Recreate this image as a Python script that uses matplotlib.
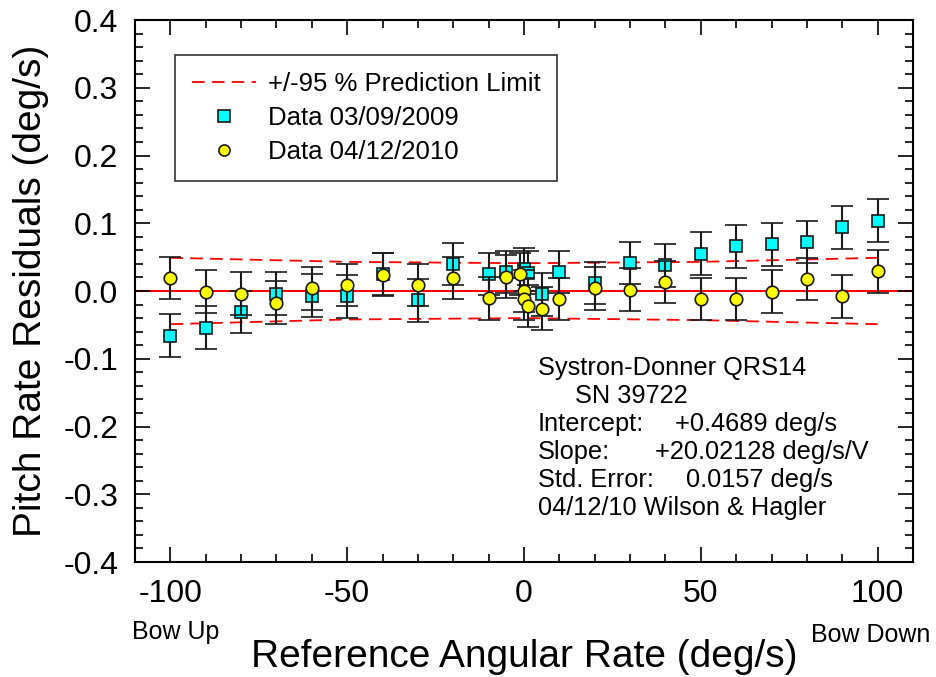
import matplotlib
matplotlib.use("Agg")
import matplotlib.pyplot as plt
from matplotlib.ticker import MultipleLocator
from matplotlib.lines import Line2D
import numpy as np

plt.rcParams['font.family'] = ['Liberation Sans', 'DejaVu Sans']

# data
x_2009 = [-100, -90, -80, -70, -60, -50, -40, -30, -20, -10, -5, 0, 1, 5, 10,
          20, 30, 40, 50, 60, 70, 80, 90, 100]
y_2009 = [-0.066, -0.054, -0.031, -0.004, -0.007, -0.008, 0.025, -0.014, 0.040,
          0.025, 0.028, 0.032, 0.027, -0.005, 0.028,
          0.012, 0.041, 0.038, 0.055, 0.066, 0.069, 0.072, 0.094, 0.104]

x_2010 = [-100, -90, -80, -70, -60, -50, -40, -30, -20, -10, -5, -1, 0, 0, 1, 5, 10,
          20, 30, 40, 50, 60, 70, 80, 90, 100]
y_2010 = [0.019, -0.001, -0.004, -0.017, 0.004, 0.009, 0.024, 0.009, 0.019,
          -0.011, 0.021, 0.025, 0.000, -0.012, -0.022, -0.026, -0.012,
          0.004, 0.002, 0.013, -0.012, -0.012, -0.001, 0.018, -0.008, 0.029]

err = 0.0314  # 2 x std. error

x_limit = [-100, -50, 0, 50, 100]
upper_limit = [0.049, 0.043, 0.041, 0.043, 0.049]
lower_limit = [-0.049, -0.042, -0.040, -0.043, -0.049]

info_labels = ['Systron-Donner QRS14', 'SN 39722', 'Intercept:', 'Slope:',
               'Std. Error:', '04/12/10 Wilson & Hagler']
info_values = ['', '', '+0.4689 deg/s', '+20.02128 deg/s/V', '0.0157 deg/s', '']

W, H = 936, 677
fig = plt.figure(figsize=(W / 100, H / 100), dpi=100)
ax = fig.add_axes([135 / W, 1 - 562 / H, 778 / W, 542 / H])

dash = (0, (7, 4))
ax.axhline(0, color='red', lw=1.5, zorder=1)
ax.plot(x_limit, upper_limit, color='red', ls=dash, lw=1.3, zorder=1)
ax.plot(x_limit, lower_limit, color='red', ls=dash, lw=1.3, zorder=1)

ax.errorbar(x_2009, y_2009, yerr=err, fmt='s', ms=8.5, mfc='#00ffff', mec='#1a1a1a',
            mew=1.2, ecolor='#1a1a1a', elinewidth=1.5, capsize=8, capthick=1.5,
            zorder=2)
ax.errorbar(x_2010, y_2010, yerr=err, fmt='o', ms=9, mfc='#ffff00', mec='#1a1a1a',
            mew=1.2, ecolor='#1a1a1a', elinewidth=1.5, capsize=8, capthick=1.5,
            zorder=3)

ax.set_xlim(-110, 110)
ax.set_ylim(-0.4, 0.4)
ax.xaxis.set_minor_locator(MultipleLocator(10))
ax.yaxis.set_minor_locator(MultipleLocator(0.02))
ax.set_yticks(np.arange(-0.4, 0.41, 0.1))
ax.set_yticklabels(['-0.4', '-0.3', '-0.2', '-0.1', '0.0', '0.1', '0.2', '0.3', '0.4'])
ax.set_xticks([-100, -50, 0, 50, 100])
ax.set_xticklabels(['-100', '-50', '0', '50', '100'])
ax.tick_params(which='both', direction='in', top=True, right=True, width=1.2,
               labelsize=23)
ax.tick_params(axis='x', pad=12)
ax.tick_params(axis='y', pad=12)
ax.tick_params(which='major', length=11)
ax.tick_params(which='minor', length=6)
for s in ax.spines.values():
    s.set_linewidth(1.5)

ax.set_xlabel('Reference Angular Rate (deg/s)', fontsize=28, labelpad=22)
ax.set_ylabel('Pitch Rate Residuals (deg/s)', fontsize=28, labelpad=10)

fig.text(176 / W, 1 - 632 / H, 'Bow Up', fontsize=18, ha='center', va='center')
fig.text(871 / W, 1 - 635 / H, 'Bow Down', fontsize=18, ha='center', va='center')

handles = [
    Line2D([], [], color='red', ls=dash, lw=1.3),
    Line2D([], [], ls='none', marker='s', ms=8, mfc='#00ffff', mec='#1a1a1a', mew=1.2),
    Line2D([], [], ls='none', marker='o', ms=8, mfc='#ffff00', mec='#1a1a1a', mew=1.2),
]
labels = ['+/-95 % Prediction Limit', 'Data 03/09/2009', 'Data 04/12/2010']
leg = ax.legend(handles, labels, loc='upper left',
                bbox_to_anchor=((175 - 135) / 778, 1 - (55 - 20) / 542),
                borderaxespad=0, fontsize=18.5, frameon=True, fancybox=False,
                edgecolor='black', handlelength=2.5, borderpad=0.65,
                labelspacing=0.4, handletextpad=0.45)
leg.get_frame().set_linewidth(1.2)

# fit info block, one row every 28 px
label_x = [538, 575, 538, 538, 538, 538]
value_x = [0, 0, 675, 655, 686, 0]
for i, (lab, val) in enumerate(zip(info_labels, info_values)):
    yc = 1 - (368 + 28 * i) / H
    fig.text(label_x[i] / W, yc, lab, fontsize=18.3, va='center', ha='left')
    if val:
        fig.text(value_x[i] / W, yc, val, fontsize=18.3, va='center', ha='left')

fig.savefig('out.png', dpi=100)
